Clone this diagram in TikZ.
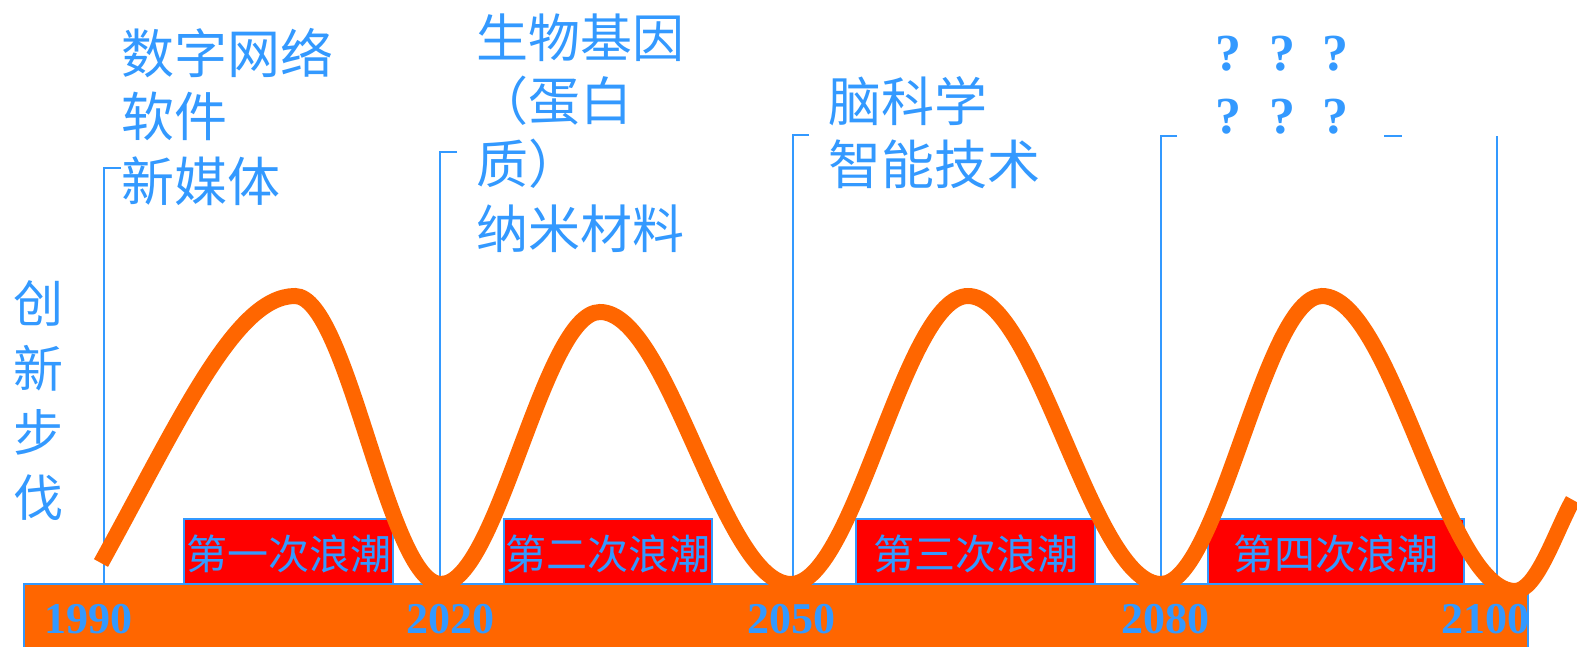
\documentclass[tikz,border=0pt]{standalone}
\usepackage{fontspec}
\setmainfont{Liberation Serif}
\newfontfamily\cjk{Noto Sans CJK SC}
\definecolor{lblue}{RGB}{51,153,255}
\definecolor{worange}{RGB}{255,102,0}
\definecolor{wred}{RGB}{255,0,0}
\tikzset{
  bracketline/.style={draw=lblue, line width=2pt},
  wavebox/.style={draw=lblue, line width=2.5pt, fill=wred},
  wavelabel/.style={text=lblue, inner sep=0pt, anchor=base, font=\cjk\fontsize{41}{41}\selectfont},
  toptext/.style={text=lblue, inner sep=0pt, anchor=base west, font=\cjk\fontsize{53}{53}\selectfont},
  sidetext/.style={text=lblue, inner sep=0pt, anchor=base, font=\cjk\fontsize{50}{50}\selectfont},
  yearlabel/.style={text=lblue, inner sep=0pt, anchor=base, font=\bfseries\fontsize{44}{44}\selectfont},
  qmark/.style={text=lblue, inner sep=0pt, anchor=base, font=\bfseries\fontsize{52}{52}\selectfont},
  wave/.style={draw=worange, line width=16pt}
}
\begin{document}
\begin{tikzpicture}[x=1pt,y=-1pt]
\useasboundingbox (0,0) rectangle (1577,646);
% bottom bar
\draw[fill=worange, draw=lblue, line width=2pt] (24,584) rectangle (1528,652);
% bracket lines
\draw[bracketline] (121,168) -- (104,168) -- (104,584);
\draw[bracketline] (457,152) -- (440,152) -- (440,584);
\draw[bracketline] (809,135) -- (793,135) -- (793,584);
\draw[bracketline] (1177,136) -- (1161,136) -- (1161,584);
\draw[bracketline] (1384,136) -- (1402,136);
\draw[bracketline] (1497,136) -- (1497,584);
% red boxes
\draw[wavebox] (184,519) rectangle (393,584);
\draw[wavebox] (504,519) rectangle (712,584);
\draw[wavebox] (856,519) rectangle (1095,584);
\draw[wavebox] (1208,519) rectangle (1464,584);
\node[wavelabel] (w1) at (288.5,569.5) {第一次浪潮};
\node[wavelabel] (w2) at (608,569.5) {第二次浪潮};
\node[wavelabel] (w3) at (975.5,569.5) {第三次浪潮};
\node[wavelabel] (w4) at (1336,569.5) {第四次浪潮};
% wave
\draw[wave] (101,563) .. controls (180,420) and (235,296) .. (295,296)
  .. controls (348,296) and (388,584) .. (441,584)
  .. controls (498,584) and (543,312) .. (600,312)
  .. controls (669,312) and (722,584) .. (791,584)
  .. controls (855,584) and (904,296) .. (968,296)
  .. controls (1037,296) and (1092,584) .. (1161,584)
  .. controls (1219,584) and (1264,296) .. (1322,296)
  .. controls (1392,296) and (1445,591) .. (1515,591)
  .. controls (1537,591) and (1556,530) .. (1573,500);
% years
\node[yearlabel] (y1) at (88,633) {1990};
\node[yearlabel] (y2) at (450,633) {2020};
\node[yearlabel] (y3) at (791,633) {2050};
\node[yearlabel] (y4) at (1165,633) {2080};
\node[yearlabel] (y5) at (1485,633) {2100};
% side text
\node[sidetext] (s1) at (38,322) {创};
\node[sidetext] (s2) at (38,387) {新};
\node[sidetext] (s3) at (38,451) {步};
\node[sidetext] (s4) at (38,516) {伐};
% column texts
\node[toptext] (a1) at (121,73.5) {数字网络};
\node[toptext] (a2) at (121,136) {软件};
\node[toptext] (a3) at (121,201) {新媒体};
\node[toptext, font=\cjk\fontsize{52}{52}\selectfont] (b1) at (476,57.5) {生物基因};
\node[toptext, font=\cjk\fontsize{52}{52}\selectfont] (b2) at (476,120) {（蛋白};
\node[toptext, font=\cjk\fontsize{52}{52}\selectfont] (b3) at (476,183) {质）};
\node[toptext, font=\cjk\fontsize{52}{52}\selectfont] (b4) at (476,248) {纳米材料};
\node[toptext] (c1) at (828,121) {脑科学};
\node[toptext] (c2) at (828,184) {智能技术};
% question marks
\node[qmark] (q1) at (1228,70) {?};
\node[qmark] (q2) at (1282,70) {?};
\node[qmark] (q3) at (1335,70) {?};
\node[qmark] (q4) at (1228,133) {?};
\node[qmark] (q5) at (1282,133) {?};
\node[qmark] (q6) at (1335,133) {?};
\end{tikzpicture}
\end{document}
